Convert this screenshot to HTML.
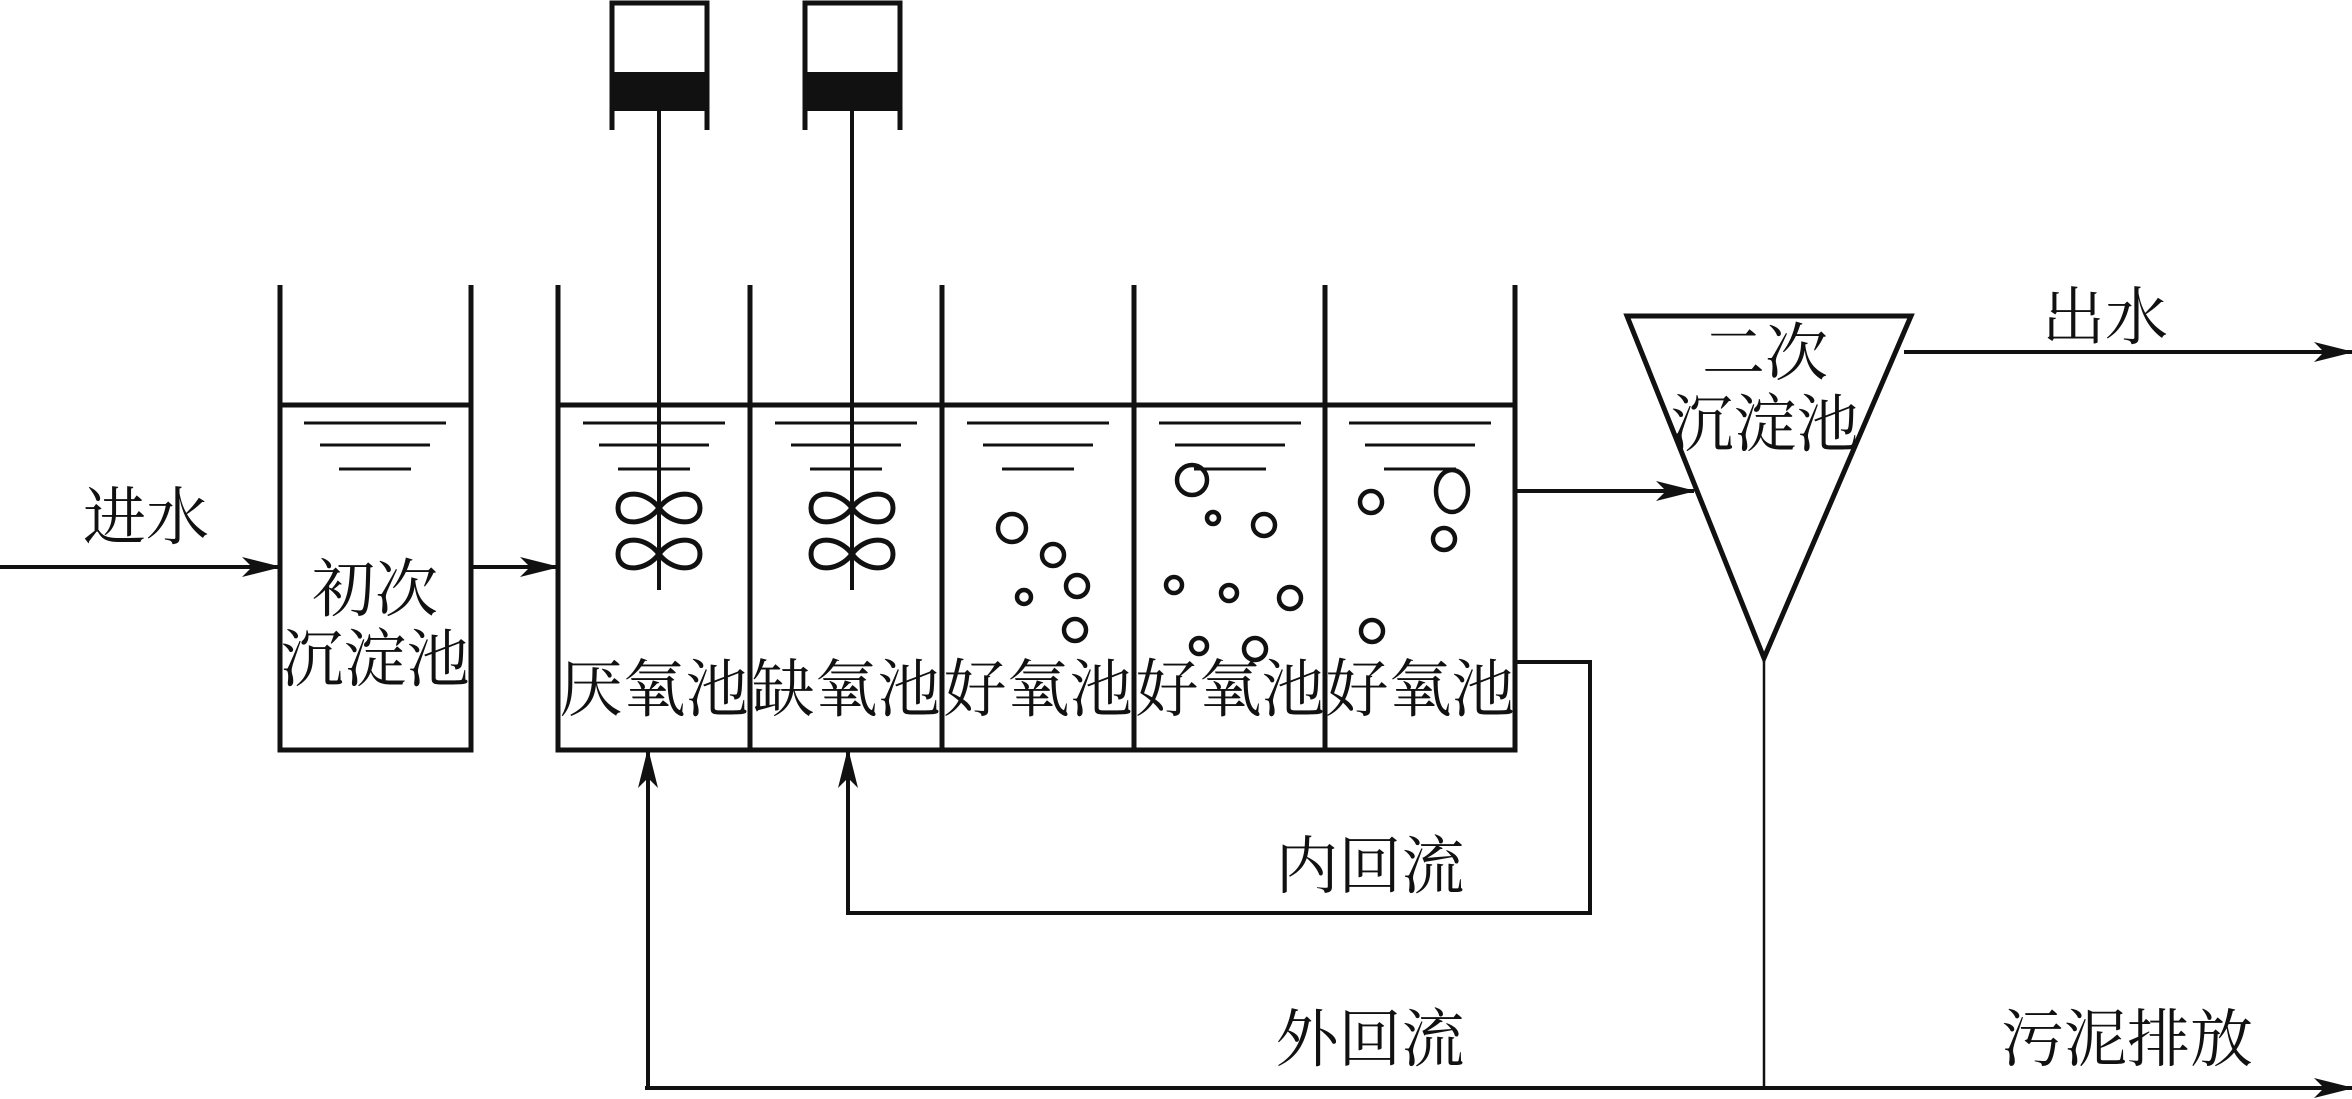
<!DOCTYPE html>
<html><head><meta charset="utf-8"><style>
html,body{margin:0;padding:0;background:#fff}
svg{display:block}
text{font-family:"Liberation Serif","Noto Serif CJK SC","Noto Sans CJK SC",serif;fill:#111;font-size:63px;text-anchor:middle;dominant-baseline:central}
</style></head><body>
<svg width="2352" height="1099" viewBox="0 0 2352 1099" xmlns="http://www.w3.org/2000/svg">
<defs>
<marker id="ah" markerWidth="40" markerHeight="20" refX="38" refY="10" orient="auto" markerUnits="userSpaceOnUse">
<path d="M0,0 L40,10 L0,20 L10,10 Z" fill="#111"/>
</marker>
<g id="rip" stroke="#111" stroke-width="3">
<line x1="-71" y1="423" x2="71" y2="423"/>
<line x1="-55" y1="445" x2="55" y2="445"/>
<line x1="-36" y1="469" x2="36" y2="469"/>
</g>
<g id="prop" fill="none" stroke="#111" stroke-width="5">
<path d="M0,0 C13,-18 41,-19 41,0 C41,19 13,18 0,0 C-13,-18 -41,-19 -41,0 C-41,19 -13,18 0,0 Z"/>
</g>
</defs>
<g stroke="#111" stroke-width="5" fill="none">
<polyline points="280,285 280,750 471,750 471,285"/>
<line x1="280" y1="405" x2="471" y2="405"/>
<polyline points="558,285 558,750 1515,750 1515,285"/>
<line x1="558" y1="405" x2="1515" y2="405"/>
<line x1="750" y1="285" x2="750" y2="750"/>
<line x1="942" y1="285" x2="942" y2="750"/>
<line x1="1134" y1="285" x2="1134" y2="750"/>
<line x1="1325" y1="285" x2="1325" y2="750"/>
<polyline points="612,130 612,3 707,3 707,130"/>
<polyline points="805,130 805,3 900,3 900,130"/>
<line x1="659" y1="100" x2="659" y2="590" stroke-width="4"/>
<line x1="852" y1="100" x2="852" y2="590" stroke-width="4"/>
<polygon points="1627,316 1911,316 1764,658"/>
</g>
<rect x="612" y="72" width="95" height="39" fill="#111"/>
<rect x="805" y="72" width="95" height="39" fill="#111"/>
<use href="#rip" x="375"/>
<use href="#rip" x="654"/>
<use href="#rip" x="846"/>
<use href="#rip" x="1038"/>
<use href="#rip" x="1230"/>
<use href="#rip" x="1420"/>
<use href="#prop" x="659" y="508"/>
<use href="#prop" x="659" y="554"/>
<use href="#prop" x="852" y="508"/>
<use href="#prop" x="852" y="554"/>
<g fill="none" stroke="#111" stroke-width="4.5">
<circle cx="1012" cy="528" r="14"/><circle cx="1053" cy="555" r="11"/><circle cx="1077" cy="586" r="11"/><circle cx="1024" cy="597" r="7"/><circle cx="1075" cy="630" r="11"/>
<circle cx="1192" cy="480" r="15"/><circle cx="1213" cy="518" r="6"/><circle cx="1264" cy="525" r="11"/><circle cx="1174" cy="585" r="8"/><circle cx="1229" cy="593" r="8"/><circle cx="1290" cy="598" r="11"/><circle cx="1199" cy="646" r="8"/><circle cx="1255" cy="649" r="11"/>
<circle cx="1371" cy="502" r="11"/><ellipse cx="1452" cy="491" rx="16" ry="21"/><circle cx="1444" cy="539" r="11"/><circle cx="1372" cy="631" r="11"/>
</g>
<g stroke="#111" stroke-width="4" fill="none">
<line x1="0" y1="567" x2="280" y2="567" marker-end="url(#ah)"/>
<line x1="471" y1="567" x2="558" y2="567" marker-end="url(#ah)"/>
<line x1="1515" y1="491" x2="1694" y2="491" marker-end="url(#ah)"/>
<line x1="1904" y1="352" x2="2352" y2="352" marker-end="url(#ah)"/>
<line x1="645" y1="1088" x2="2352" y2="1088" marker-end="url(#ah)"/>
<line x1="648" y1="1088" x2="648" y2="750" marker-end="url(#ah)"/>
<polyline points="1515,662 1590,662 1590,913 848,913 848,750" marker-end="url(#ah)"/>
<line x1="1764" y1="658" x2="1764" y2="1088" stroke-width="2.5"/>
</g>
<text x="146" y="518">进水</text>
<text x="375" y="590">初次</text>
<text x="375" y="660">沉淀池</text>
<text x="654" y="690">厌氧池</text>
<text x="846" y="690">缺氧池</text>
<text x="1038" y="690">好氧池</text>
<text x="1230" y="690">好氧池</text>
<text x="1420" y="690">好氧池</text>
<text x="1765" y="354">二次</text>
<text x="1765" y="425">沉淀池</text>
<text x="2105" y="318">出水</text>
<text x="1370" y="867">内回流</text>
<text x="1370" y="1040">外回流</text>
<text x="2127" y="1040">污泥排放</text>
</svg>
</body></html>
